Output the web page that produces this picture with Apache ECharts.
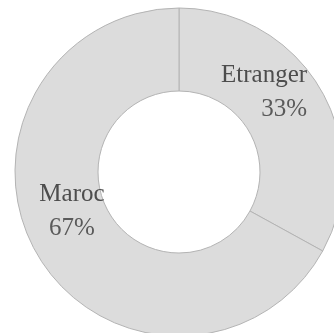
<!DOCTYPE html>
<html>
<head>
<meta charset="utf-8">
<script src="https://cdn.jsdelivr.net/npm/echarts@6/dist/echarts.min.js"></script>
<style>html,body{margin:0;padding:0;background:#fff}#c{width:334px;height:333px}</style>
</head>
<body>
<div id="c"></div>
<script>
var categories = ['Etranger', 'Maroc'];
var values = [33, 67];

var chart = echarts.init(document.getElementById('c'), null, {renderer: 'canvas'});
var labelShift = [[-23, -16], [1, -24]];
chart.setOption({
  backgroundColor: '#ffffff',
  animation: false,
  series: [{
    type: 'pie',
    center: [179, 172],
    radius: [81, 164],
    startAngle: 90,
    clockwise: true,
    data: categories.map(function (c, i) { return {name: c, value: values[i]}; }),
    itemStyle: {color: '#dcdcdc', borderColor: '#b4b4b4', borderWidth: 1},
    label: {
      show: true,
      position: 'inside',
      formatter: function (p) {
        return p.dataIndex === 0 ? '{n|' + p.name + '}\n{r|' + Math.round(p.percent) + '%}'
                                 : '{n|' + p.name + '}\n{c|' + Math.round(p.percent) + '%}';
      },
      rich: {
        n: {fontFamily: 'Liberation Serif', fontSize: 25, color: '#4d4d4d', lineHeight: 34},
        r: {fontFamily: 'Liberation Serif', fontSize: 25, color: '#5a5a5a', align: 'right', lineHeight: 34},
        c: {fontFamily: 'Liberation Serif', fontSize: 25, color: '#5a5a5a', align: 'center', lineHeight: 34}
      }
    },
    labelLayout: function (p) {
      return {dx: labelShift[p.dataIndex][0], dy: labelShift[p.dataIndex][1]};
    },
    labelLine: {show: false},
    emphasis: {disabled: true}
  }]
});
</script>
</body>
</html>
